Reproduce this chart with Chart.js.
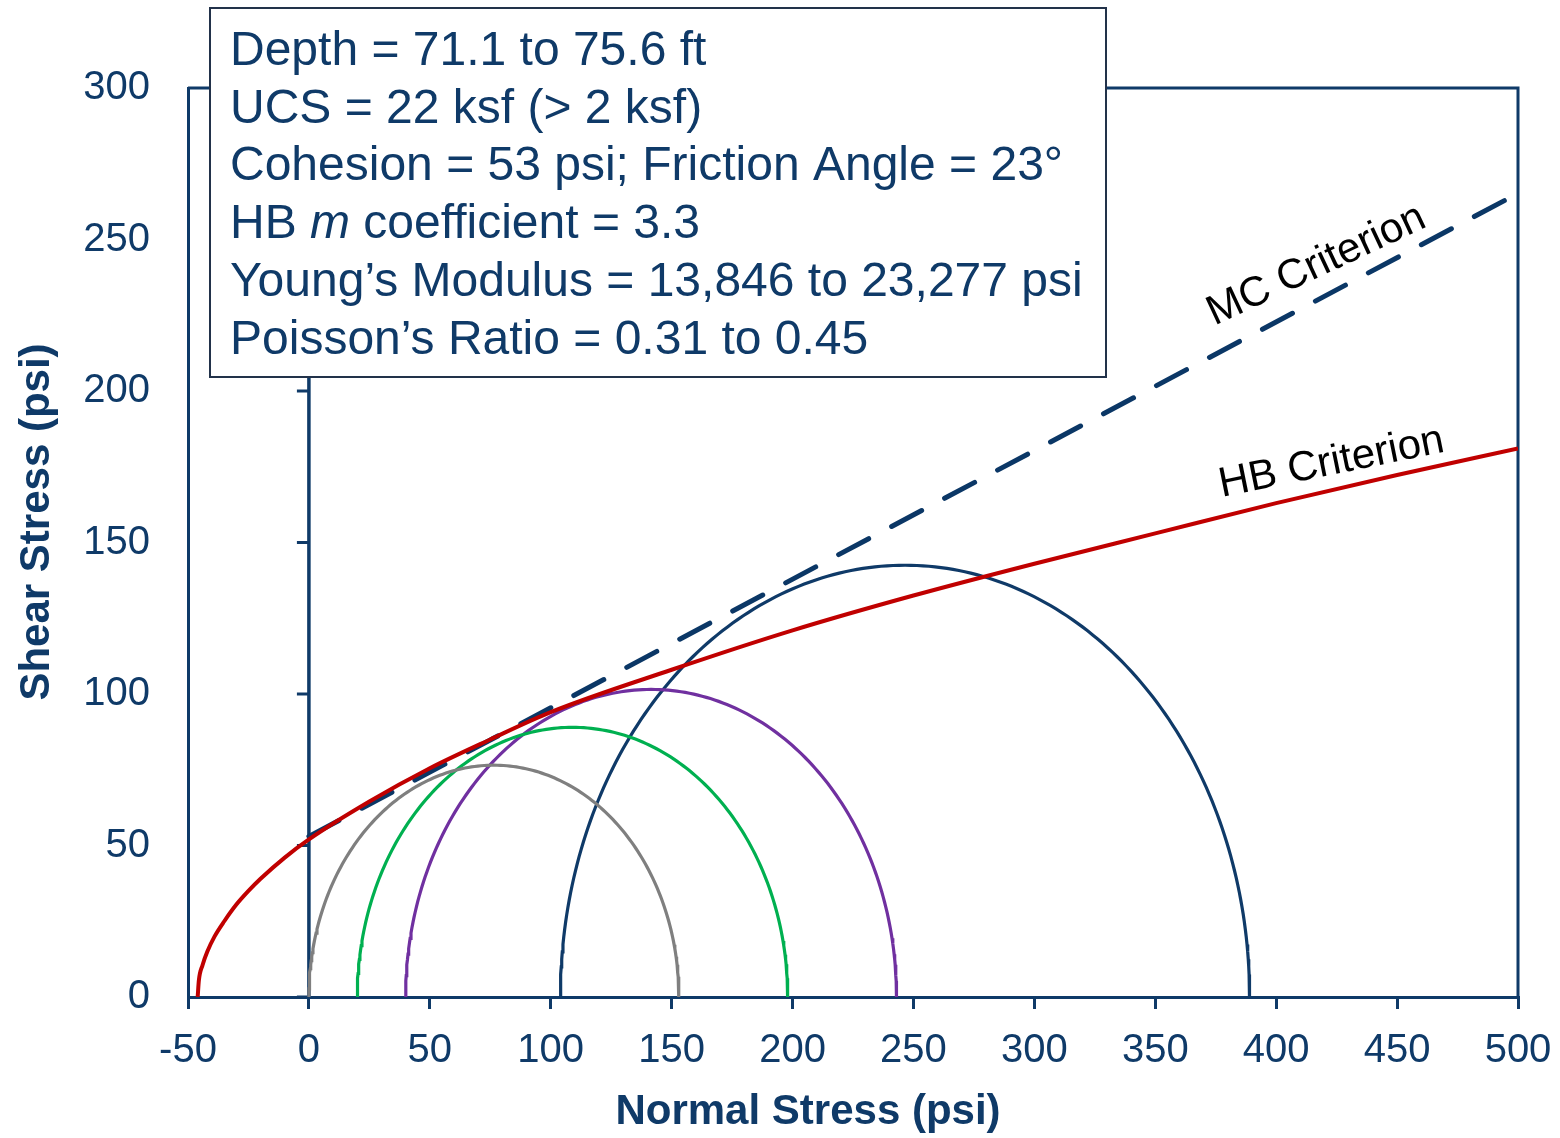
<!DOCTYPE html>
<html>
<head>
<meta charset="utf-8">
<title>Mohr Circles</title>
<script src="https://cdn.jsdelivr.net/npm/chart.js@4.4.0/dist/chart.umd.min.js"></script>
<style>
  html, body { margin: 0; padding: 0; background: #ffffff; }
  #wrap { width: 1560px; height: 1138px; }
</style>
</head>
<body>
<div id="wrap"><canvas id="mohrChart" width="1560" height="1138"></canvas></div>
<script>
// Axis ticks
const xTicks = [-50, 0, 50, 100, 150, 200, 250, 300, 350, 400, 450, 500];
const yTicks = [0, 50, 100, 150, 200, 250, 300];

// Hoek-Brown envelope (normal stress, shear stress), psi
const hbSigma = [-46, -45.5, -44, -42, -39, -35, -30, -25, -20, -10, 0, 25, 50, 75, 100, 150, 200, 250, 300, 350, 400, 450, 500];
const hbTau   = [0, 5.5, 10.5, 15, 20, 25, 30.5, 35, 39, 46, 52, 64.5, 75.5, 85, 94, 108, 121, 132.5, 143, 153, 163, 172.3, 181];

// Mohr-Coulomb envelope
const cohesion = 53;        // psi
const frictionAngle = 23;   // degrees
const mcSigma = [0, 500];

// Test circles: minor and major principal stress, psi
const sigma3 = [0, 20, 40, 104];
const sigma1 = [153, 198, 243, 389];
const circleColors = ['#7f7f7f', '#00b050', '#7030a0', '#0f3a68'];

const infoLines = [
  [['Depth = 71.1 to 75.6 ft', false]],
  [['UCS = 22 ksf (> 2 ksf)', false]],
  [['Cohesion = 53 psi; Friction Angle = 23°', false]],
  [['HB ', false], ['m', true], [' coefficient = 3.3', false]],
  [['Young’s Modulus = 13,846 to 23,277 psi', false]],
  [['Poisson’s Ratio = 0.31 to 0.45', false]]
];

const NAVY = '#0f3a68';
const FONT = "'Liberation Sans', Arial, sans-serif";

// Build the chart datasets
const hbData = hbSigma.map((s, i) => ({ x: s, y: hbTau[i] }));
const tanPhi = Math.tan(frictionAngle * Math.PI / 180);
const mcData = mcSigma.map(s => ({ x: s, y: cohesion + s * tanPhi }));

function circlePoints(s3, s1) {
  const c = (s1 + s3) / 2, r = (s1 - s3) / 2;
  const pts = [];
  for (let a = 180; a >= 0; a--) {
    const t = a * Math.PI / 180;
    pts.push({ x: c + r * Math.cos(t), y: r * Math.sin(t) });
  }
  return pts;
}

const datasets = [
  {
    label: 'HB Criterion',
    data: hbData,
    borderColor: '#c00000',
    borderWidth: 4,
    cubicInterpolationMode: 'monotone'
  },
  {
    label: 'MC Criterion',
    data: mcData,
    borderColor: '#0b3766',
    borderWidth: 5,
    borderDash: [34, 26],
    borderCapStyle: 'round'
  }
];
sigma3.forEach((s3, i) => {
  datasets.push({
    label: 'Circle ' + (i + 1),
    data: circlePoints(s3, sigma1[i]),
    borderColor: circleColors[i],
    borderWidth: 3.2
  });
});
datasets.forEach(d => {
  d.showLine = true;
  d.pointRadius = 0;
  d.pointHoverRadius = 0;
  d.fill = false;
});

const decorPlugin = {
  id: 'decor',
  beforeDatasetsDraw(chart) {
    const { ctx, chartArea: a, scales: { x, y } } = chart;
    ctx.save();
    ctx.strokeStyle = NAVY;
    ctx.lineWidth = 3;
    // top and right edges of the plot frame
    ctx.beginPath();
    ctx.moveTo(a.left, a.top);
    ctx.lineTo(a.right, a.top);
    ctx.lineTo(a.right, a.bottom);
    ctx.stroke();
    // vertical axis at zero normal stress, ticks pointing left
    const x0 = x.getPixelForValue(0);
    ctx.lineWidth = 3.5;
    ctx.beginPath();
    ctx.moveTo(x0, a.bottom);
    ctx.lineTo(x0, a.top);
    ctx.stroke();
    ctx.lineWidth = 3;
    yTicks.forEach(v => {
      const py = y.getPixelForValue(v);
      ctx.beginPath();
      ctx.moveTo(x0 - 12, py);
      ctx.lineTo(x0, py);
      ctx.stroke();
    });
    ctx.restore();
  },
  afterDatasetsDraw(chart) {
    const { ctx, scales: { x, y } } = chart;
    ctx.save();
    ctx.fillStyle = '#000000';
    ctx.font = '42px ' + FONT;
    ctx.textAlign = 'left';
    ctx.textBaseline = 'alphabetic';
    ctx.translate(x.getPixelForValue(374.5), y.getPixelForValue(221.5));
    ctx.rotate(-25 * Math.PI / 180);
    ctx.fillText('MC Criterion', 0, 0);
    ctx.restore();

    ctx.save();
    ctx.fillStyle = '#000000';
    ctx.font = '42px ' + FONT;
    ctx.textAlign = 'left';
    ctx.textBaseline = 'alphabetic';
    ctx.translate(x.getPixelForValue(377.5), y.getPixelForValue(165));
    ctx.rotate(-11.5 * Math.PI / 180);
    ctx.fillText('HB Criterion', 0, 0);
    ctx.restore();
  },
  afterDraw(chart) {
    const { ctx } = chart;
    ctx.save();
    // axis titles
    ctx.fillStyle = NAVY;
    ctx.font = 'bold 42px ' + FONT;
    ctx.textAlign = 'center';
    ctx.textBaseline = 'middle';
    ctx.fillText('Normal Stress (psi)', 808, 1112);
    ctx.translate(37, 522);
    ctx.rotate(-Math.PI / 2);
    ctx.fillText('Shear Stress (psi)', 0, 0);
    ctx.restore();

    // parameter box
    ctx.save();
    ctx.fillStyle = '#ffffff';
    ctx.fillRect(210, 8, 896, 369);
    ctx.strokeStyle = '#22324a';
    ctx.lineWidth = 2;
    ctx.strokeRect(210, 8, 896, 369);
    ctx.fillStyle = NAVY;
    ctx.textAlign = 'left';
    ctx.textBaseline = 'alphabetic';
    infoLines.forEach((parts, i) => {
      let px = 230;
      const py = 65 + i * 57.7;
      parts.forEach(([txt, italic]) => {
        ctx.font = (italic ? 'italic ' : '') + '48px ' + FONT;
        ctx.fillText(txt, px, py);
        px += ctx.measureText(txt).width;
      });
    });
    ctx.restore();
  }
};

new Chart(document.getElementById('mohrChart').getContext('2d'), {
  type: 'scatter',
  data: { datasets: datasets },
  options: {
    responsive: false,
    animation: false,
    layout: { padding: { left: 0, top: 88, right: 42, bottom: 0 } },
    plugins: {
      legend: { display: false },
      tooltip: { enabled: false }
    },
    scales: {
      x: {
        type: 'linear',
        min: -50,
        max: 500,
        afterBuildTicks: s => { s.ticks = xTicks.map(v => ({ value: v })); },
        afterFit: s => { s.height = 141; s.paddingLeft = 0; s.paddingRight = 0; },
        ticks: {
          color: NAVY,
          font: { family: FONT, size: 40 },
          padding: 18,
          maxRotation: 0,
          autoSkip: false,
          callback: v => String(v)
        },
        grid: {
          display: true,
          drawOnChartArea: false,
          drawTicks: true,
          tickLength: 12,
          color: NAVY,
          lineWidth: 3
        },
        border: { display: true, color: NAVY, width: 3 }
      },
      y: {
        type: 'linear',
        min: 0,
        max: 300,
        afterBuildTicks: s => { s.ticks = yTicks.map(v => ({ value: v })); },
        afterFit: s => { s.width = 188; s.paddingTop = 0; s.paddingBottom = 0; },
        ticks: {
          color: NAVY,
          font: { family: FONT, size: 40 },
          padding: 38,
          autoSkip: false,
          callback: v => String(v)
        },
        grid: { display: false, drawTicks: false },
        border: { display: true, color: NAVY, width: 3 }
      }
    }
  },
  plugins: [decorPlugin]
});
</script>
</body>
</html>
